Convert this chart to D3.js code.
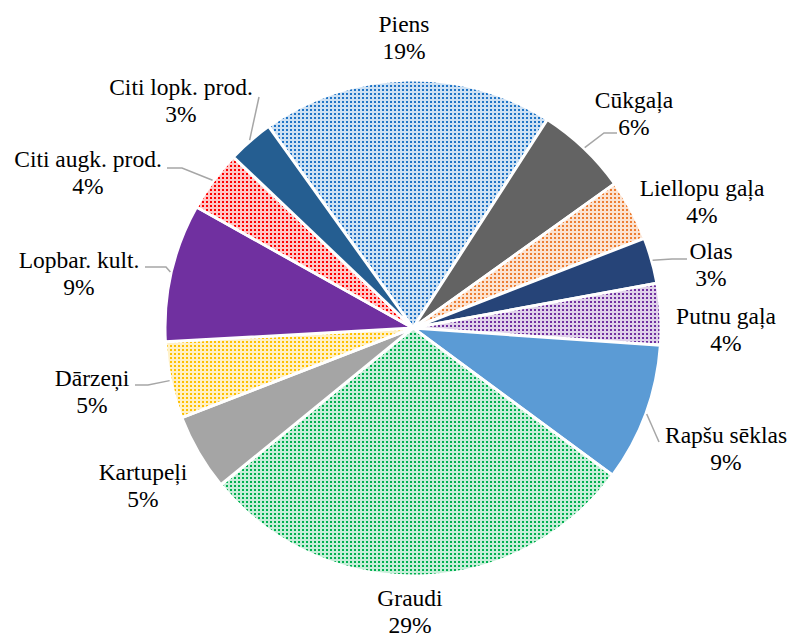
<!DOCTYPE html>
<html>
<head>
<meta charset="utf-8">
<script src="https://cdn.jsdelivr.net/npm/d3@7"></script>
<style>
    body { margin: 0; background: #fff; }
</style>
</head>
<body>
<svg id="chart" width="789" height="637"></svg>
<script>
// chart data, clockwise from the Piens slice
const categories = ['Piens', 'Cūkgaļa', 'Liellopu gaļa', 'Olas', 'Putnu gaļa', 'Rapšu sēklas',
    'Graudi', 'Kartupeļi', 'Dārzeņi', 'Lopbar. kult.', 'Citi augk. prod.', 'Citi lopk. prod.'];
const values = [19, 6, 4, 3, 4, 9, 29, 5, 5, 9, 4, 3];
const percentLabels = ['19%', '6%', '4%', '3%', '4%', '9%', '29%', '5%', '5%', '9%', '4%', '3%'];

// fill: solid colour or dotted pattern
const fills = [
    {color: '#1F74C6', dotted: true},
    {color: '#636363', dotted: false},
    {color: '#ED7D31', dotted: true},
    {color: '#264478', dotted: false},
    {color: '#7030A0', dotted: true},
    {color: '#5B9BD5', dotted: false},
    {color: '#00B050', dotted: true},
    {color: '#A5A5A5', dotted: false},
    {color: '#FFC000', dotted: true},
    {color: '#7030A0', dotted: false},
    {color: '#FF0000', dotted: true},
    {color: '#255E91', dotted: false}
];

// label layout: text centre x, first baseline y, leader line (elbow, end) or null
const labelLayout = [
    {x: 404, y: 32, leader: null},
    {x: 634, y: 108, leader: [[604, 133], [617, 133]]},
    {x: 702, y: 196, leader: null},
    {x: 711, y: 259, leader: [[672, 259], [687, 259]]},
    {x: 726, y: 324, leader: null},
    {x: 726, y: 443, leader: [[659, 442], [659, 442]]},
    {x: 410, y: 606, leader: null},
    {x: 143, y: 480, leader: null},
    {x: 92, y: 386, leader: [[148, 385], [135, 385]]},
    {x: 79, y: 268, leader: [[166, 267], [145, 267]]},
    {x: 88, y: 167, leader: [[182, 168], [167, 168]]},
    {x: 181, y: 95, leader: [[259, 97], [259, 97]]}
];

const cx = 413, cy = 328, radius = 248;
const lineGap = 26.5;
const startDeg = -35.6;
const fontFamily = '"Liberation Serif", "Times New Roman", Tinos, "DejaVu Serif", serif';

const svg = d3.select('#chart');
const defs = svg.append('defs');

fills.forEach(function (f, i) {
    if (!f.dotted) return;
    const p = defs.append('pattern')
        .attr('id', 'dots' + i)
        .attr('patternUnits', 'userSpaceOnUse')
        .attr('width', 4)
        .attr('height', 4);
    p.append('rect').attr('width', 4).attr('height', 4).attr('fill', '#fff');
    p.append('rect').attr('width', 4).attr('height', 4).attr('fill', f.color).attr('opacity', 0.22);
    p.append('rect').attr('x', 1).attr('y', 1).attr('width', 2).attr('height', 2).attr('fill', f.color);
});

const pie = d3.pie()
    .sort(null)
    .value(d => d)
    .startAngle(startDeg * Math.PI / 180)
    .endAngle(startDeg * Math.PI / 180 + 2 * Math.PI);

const arcs = pie(values);

const arc = d3.arc().innerRadius(0).outerRadius(radius);
const edgeArc = d3.arc().innerRadius(radius + 1).outerRadius(radius + 1);

const g = svg.append('g').attr('transform', 'translate(' + cx + ',' + cy + ')');

g.selectAll('path.slice')
    .data(arcs)
    .enter().append('path')
    .attr('class', 'slice')
    .attr('d', arc)
    .attr('fill', (d, i) => fills[i].dotted ? 'url(#dots' + i + ')' : fills[i].color)
    .attr('stroke', '#fff')
    .attr('stroke-width', 3)
    .attr('stroke-linejoin', 'round');

// leader lines
const line = d3.line();
arcs.forEach(function (d, i) {
    const lay = labelLayout[i];
    if (!lay.leader) return;
    const c = edgeArc.centroid(d);
    const pts = [[cx + c[0], cy + c[1]]].concat(lay.leader);
    svg.append('path')
        .attr('d', line(pts))
        .attr('fill', 'none')
        .attr('stroke', '#A6A6A6')
        .attr('stroke-width', 1.5);
});

// labels
categories.forEach(function (name, i) {
    const lay = labelLayout[i];
    const t = svg.append('text')
        .attr('text-anchor', 'middle')
        .attr('font-family', fontFamily)
        .attr('font-size', 23.5)
        .attr('fill', '#000');
    t.append('tspan').attr('x', lay.x).attr('y', lay.y).text(name);
    t.append('tspan').attr('x', lay.x).attr('y', lay.y + lineGap).text(percentLabels[i]);
});
</script>
</body>
</html>
